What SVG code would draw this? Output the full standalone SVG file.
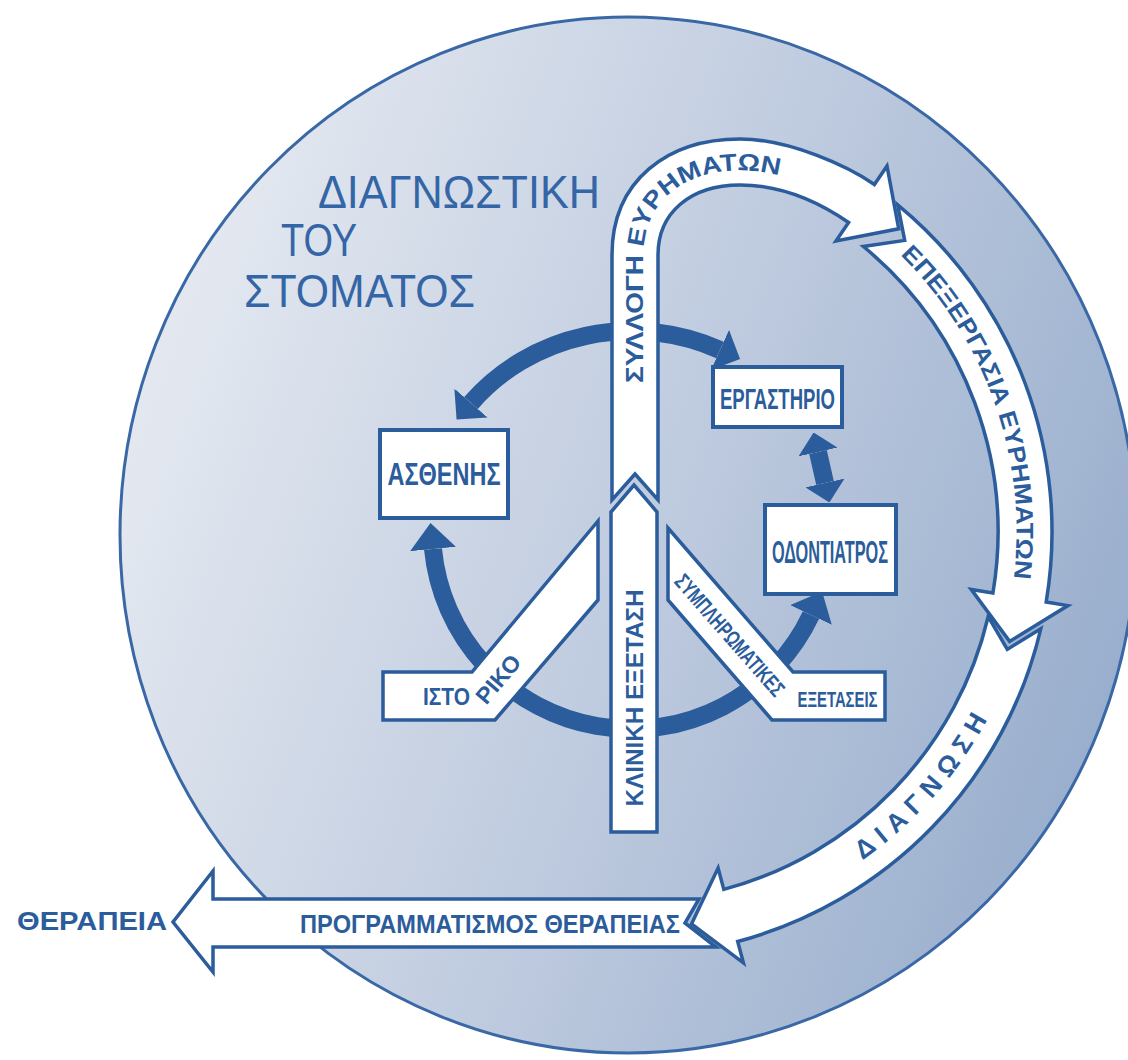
<svg xmlns="http://www.w3.org/2000/svg" width="1128" height="1060" viewBox="0 0 1128 1060">
<defs>
  <linearGradient id="bg" gradientUnits="userSpaceOnUse" x1="150" y1="400" x2="1120" y2="760">
    <stop offset="0" stop-color="#e3e8f0"/>
    <stop offset="0.5" stop-color="#bfcbdf"/>
    <stop offset="1" stop-color="#97adcc"/>
  </linearGradient>
  <marker id="ah" markerUnits="userSpaceOnUse" viewBox="0 0 22 44" refX="0" refY="22" markerWidth="22" markerHeight="44" orient="auto-start-reverse">
    <path d="M0,0 L22,22 L0,44 Z" fill="#2b5c9b"/>
  </marker>
  <marker id="ah2" markerUnits="userSpaceOnUse" viewBox="0 0 26 46" refX="0" refY="23" markerWidth="26" markerHeight="46" orient="auto-start-reverse">
    <path d="M0,0 L26,23 L0,46 Z" fill="#2b5c9b"/>
  </marker>
  <marker id="ah3" markerUnits="userSpaceOnUse" viewBox="0 0 20 40" refX="0" refY="20" markerWidth="20" markerHeight="40" orient="auto-start-reverse">
    <path d="M0,0 L20,20 L0,40 Z" fill="#2b5c9b"/>
  </marker>
  <path id="p-syl" d="M643.5 383 L643.5 255 C643.5 202.6 683 170.5 740 170.5 C786.6 170.5 831.9 193.4 856.7 210.5"/>
  <path id="p-epe" d="M900.3 254.9 A388.5 388.5 0 0 1 1011.7 592.8"/>
  <path id="p-dia" d="M862.4 860.1 A406 406 0 0 0 1009.5 670.9"/>
</defs>
<style>
  .band{fill:#ffffff;stroke:#2b5c9b;stroke-width:3.5;stroke-linejoin:miter}
  .box{fill:#ffffff;stroke:#2b5c9b;stroke-width:4}
  .lbl{font-family:"Liberation Sans",Arial,sans-serif;font-weight:bold;fill:#2b5c9b}
  .title{font-family:"Liberation Sans",Arial,sans-serif;fill:#3466a7;font-size:46px}
  .ring{fill:none;stroke:#2b5c9b;stroke-width:18}
</style>
<rect x="0" y="0" width="1128" height="1060" fill="#ffffff"/>
<ellipse id="disc" cx="628" cy="535" rx="508" ry="518" fill="url(#bg)" stroke="#3a68a6" stroke-width="3"/>

<g id="title">
  <text class="title" x="318" y="208" textLength="282" lengthAdjust="spacingAndGlyphs">ΔΙΑΓΝΩΣΤΙΚΗ</text>
  <text class="title" x="281" y="256" textLength="76" lengthAdjust="spacingAndGlyphs">ΤΟΥ</text>
  <text class="title" x="244" y="307" textLength="231" lengthAdjust="spacingAndGlyphs">ΣΤΟΜΑΤΟΣ</text>
</g>

<g id="connectors">
  <path class="ring" d="M471 403 A208 198 0 0 1 720 350" marker-start="url(#ah)" marker-end="url(#ah)"/>
  <path class="ring" d="M433 549 A199 199 0 0 0 811 615" marker-start="url(#ah2)" marker-end="url(#ah2)"/>
  <path class="ring" stroke-width="16" d="M818 452 L825 483" marker-start="url(#ah3)" marker-end="url(#ah3)"/>
</g>

<g id="node-asthenis">
  <rect class="box" x="380" y="430" width="128" height="88"/>
  <text class="lbl" x="444" y="485" font-size="31" text-anchor="middle" textLength="113" lengthAdjust="spacingAndGlyphs">ΑΣΘΕΝΗΣ</text>
</g>
<g id="node-ergastirio">
  <rect class="box" x="713" y="367" width="129" height="60"/>
  <text class="lbl" x="777.5" y="409" font-size="30" text-anchor="middle" textLength="115" lengthAdjust="spacingAndGlyphs">ΕΡΓΑΣΤΗΡΙΟ</text>
</g>
<g id="node-odontiatros">
  <rect class="box" x="765" y="505" width="131" height="89"/>
  <text class="lbl" x="830" y="563" font-size="31" text-anchor="middle" textLength="116" lengthAdjust="spacingAndGlyphs">ΟΔΟΝΤΙΑΤΡΟΣ</text>
</g>

<g id="node-istoriko">
  <path class="band" d="M383 672 L472 672 L598 521 L598 600 L495 720 L383 720 Z"/>
  <text class="lbl" x="446.5" y="705" font-size="23" text-anchor="middle" textLength="47" lengthAdjust="spacingAndGlyphs">ΙΣΤΟ</text>
  <text class="lbl" font-size="23" text-anchor="middle" dy="0.36em" transform="translate(498 679) rotate(-49.8)" textLength="56" lengthAdjust="spacingAndGlyphs">ΡΙΚΟ</text>
</g>

<g id="node-symplir">
  <path class="band" d="M885 672 L793 672 L668 528 L668 600 L772 720 L885 720 Z"/>
  <text class="lbl" font-size="22" text-anchor="middle" dy="0.36em" transform="translate(730 635) rotate(48.8)" textLength="154" lengthAdjust="spacingAndGlyphs">ΣΥΜΠΛΗΡΩΜΑΤΙΚΕΣ</text>
  <text class="lbl" x="837.5" y="707" font-size="22" text-anchor="middle" textLength="80" lengthAdjust="spacingAndGlyphs">ΕΞΕΤΑΣΕΙΣ</text>
</g>

<g id="node-kliniki">
  <path class="band" d="M611 512 L634 485 L657 512 L657 832 L611 832 Z"/>
  <text class="lbl" font-size="24" text-anchor="middle" dy="0.36em" transform="translate(634 698) rotate(-90)" textLength="217" lengthAdjust="spacingAndGlyphs">ΚΛΙΝΙΚΗ ΕΞΕΤΑΣΗ</text>
</g>

<g id="node-programmatismos">
  <path class="band" d="M716 947 L213 947 L213 972 L173 922 L213 871 L213 899 L699 899 L685 923 Z"/>
  <text class="lbl" x="490" y="933" font-size="25" text-anchor="middle" textLength="380" lengthAdjust="spacingAndGlyphs">ΠΡΟΓΡΑΜΜΑΤΙΣΜΟΣ ΘΕΡΑΠΕΙΑΣ</text>
</g>

<g id="node-therapeia">
  <text class="lbl" x="92" y="930" font-size="25" text-anchor="middle" textLength="150" lengthAdjust="spacingAndGlyphs">ΘΕΡΑΠΕΙΑ</text>
</g>

<g id="node-diagnosi">
  <path class="band" d="M1040.8 628.8 A424 424 0 0 1 737.7 941.5 L743.4 962.8 L691.5 923.9 L718.1 868.1 L723.8 889.4 A370 370 0 0 0 988.2 616.5 L1007.3 649.4 Z"/>
  <text class="lbl" font-size="26"><textPath href="#p-dia" startOffset="0" textLength="190" lengthAdjust="spacing">ΔΙΑΓΝΩΣΗ</textPath></text>
</g>

<g id="node-epexergasia">
  <path class="band" d="M897.7 204.8 A424 424 0 0 1 1046.2 602 L1067.9 605.6 L1009.6 641.4 L971.2 589.4 L992.9 593.1 A370 370 0 0 0 863.4 246.5 L904.7 240.4 Z"/>
  <text class="lbl" font-size="24"><textPath href="#p-epe" startOffset="0" textLength="355" lengthAdjust="spacingAndGlyphs">ΕΠΕΞΕΡΓΑΣΙΑ ΕΥΡΗΜΑΤΩΝ</textPath></text>
</g>

<g id="node-syllogi">
  <path class="band" d="M612 500 L612 255 C612 180 668 139 740 139 C790 139 849 167 874.4 184.5 L887 166 L898.7 228.8 L836 241 L848.6 222.5 C824 205.6 785 185 740 185 C690 185 658 213 658 255 L658 500 L635 474 Z"/>
  <text class="lbl" font-size="24"><textPath href="#p-syl" startOffset="0" textLength="312" lengthAdjust="spacingAndGlyphs">ΣΥΛΛΟΓΗ ΕΥΡΗΜΑΤΩΝ</textPath></text>
</g>
</svg>
